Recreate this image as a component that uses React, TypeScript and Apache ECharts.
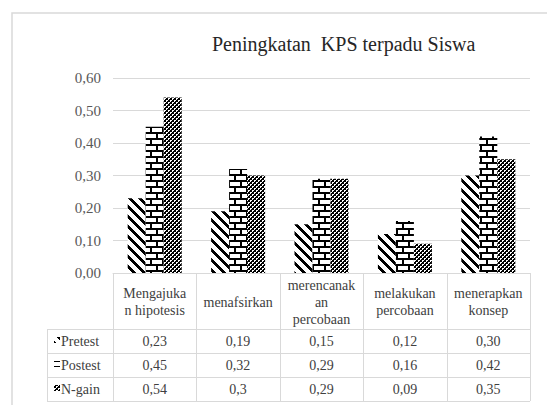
import React, { useEffect, useRef } from "react";
import * as echarts from "echarts";

const titleText = "Peningkatan  KPS terpadu Siswa";
const categories = [
  "Mengajuka\nn hipotesis",
  "menafsirkan",
  "merencanak\nan\npercobaan",
  "melakukan\npercobaan",
  "menerapkan\nkonsep",
];
const seriesNames = ["Pretest", "Postest", "N-gain"];
const pretest = [0.23, 0.19, 0.15, 0.12, 0.3];
const postest = [0.45, 0.32, 0.29, 0.16, 0.42];
const ngain = [0.54, 0.3, 0.29, 0.09, 0.35];
// decimals shown in the data table (null = general format)
const tableDecimals: (number | null)[] = [2, 2, null];

const FONT = "Liberation Serif";

function makeTile(w: number, h: number, fn: (x: number, y: number) => boolean) {
  const c = document.createElement("canvas");
  c.width = w;
  c.height = h;
  const ctx = c.getContext("2d")!;
  const img = ctx.createImageData(w, h);
  for (let y = 0; y < h; y++) {
    for (let x = 0; x < w; x++) {
      const i = (y * w + x) * 4;
      const b = fn(x, y);
      const v = b ? 0 : 255;
      img.data[i] = v;
      img.data[i + 1] = v;
      img.data[i + 2] = v;
      img.data[i + 3] = 255;
    }
  }
  ctx.putImageData(img, 0, 0);
  return { image: c.toDataURL(), repeat: "repeat", imageWidth: w, imageHeight: h } as any;
}

function fmt(v: number, d: number | null) {
  const s = d == null ? String(v) : v.toFixed(d);
  return s.replace(".", ",");
}

export default function App() {
  const ref = useRef<HTMLDivElement>(null);
  useEffect(() => {
    if (!ref.current) return;
    const chart = echarts.init(ref.current, undefined, { renderer: "svg" });
    const diag = makeTile(10, 10, (x, y) => (((x - y) % 10) + 10) % 10 < 4);
    const brick = makeTile(12, 12, (x, y) => {
      if (y % 6 < 2) return true;
      if (y < 6) return x % 12 < 2;
      return (x + 6) % 12 < 2;
    });
    const checker = makeTile(4, 4, (x, y) => ((x >> 1) + (y >> 1)) % 2 === 0 || (x === 3 && y === 1) || (x === 1 && y === 3));
    const patterns = [diag, brick, checker];
    const values = [pretest, postest, ngain];

    const gridLeft = 113;
    const gridRight = 530;
    const gridTop = 78;
    const gridBottom = 273;

    chart.setOption({
      animation: false,
      textStyle: { fontFamily: FONT },
      grid: { left: gridLeft, right: 547 - gridRight, top: gridTop, bottom: 405 - gridBottom },
      xAxis: {
        type: "category",
        data: categories,
        axisLabel: { show: false },
        axisTick: { show: false },
        axisLine: { show: true, lineStyle: { color: "#d9d9d9", width: 1 } },
      },
      yAxis: {
        type: "value",
        min: 0,
        max: 0.6,
        interval: 0.1,
        axisLine: { show: false },
        axisTick: { show: false },
        axisLabel: {
          formatter: (v: number) => fmt(v, 2),
          fontSize: 15,
          color: "#595959",
          fontFamily: FONT,
          margin: 12,
        },
        splitLine: { lineStyle: { color: "#d9d9d9", width: 1 } },
      },
      series: seriesNames.map((name, si) => ({
        type: "bar",
        name,
        data: values[si],
        barWidth: 18,
        barGap: "0%",
        itemStyle: { color: patterns[si] },
      })),
    });

    // data table aligned to the category axis
    const c0 = chart.convertToPixel({ xAxisIndex: 0 }, 0) as number;
    const c1 = chart.convertToPixel({ xAxisIndex: 0 }, 1) as number;
    const band = c1 - c0;
    const y0 = chart.convertToPixel({ yAxisIndex: 0 }, 0) as number;
    const headerH = 56;
    const rowH = 24;
    const tableLeft = 47;
    const tableRight = c0 - band / 2 + band * categories.length;
    const lineStyle = { stroke: "#d9d9d9", lineWidth: 1 };
    const g: any[] = [];
    g.push({
      type: "rect",
      shape: { x: 12, y: 13, width: 700, height: 600 },
      style: { fill: "none", stroke: "#d9d9d9", lineWidth: 1.5 },
      z: 0,
    });
    g.push({
      type: "text",
      x: 212,
      y: 44,
      style: { text: titleText, fontSize: 20, fontFamily: FONT, fill: "#262626", verticalAlign: "middle" },
    });
    // vertical lines
    for (let i = 0; i <= categories.length; i++) {
      const x = Math.round(c0 - band / 2 + band * i) + 0.5;
      g.push({ type: "line", shape: { x1: x, y1: y0, x2: x, y2: y0 + headerH + rowH * 3 }, style: lineStyle });
    }
    g.push({ type: "line", shape: { x1: tableLeft + 0.5, y1: y0 + headerH, x2: tableLeft + 0.5, y2: y0 + headerH + rowH * 3 }, style: lineStyle });
    for (let r = 0; r <= 3; r++) {
      const y = Math.round(y0 + headerH + rowH * r) + 0.5;
      g.push({ type: "line", shape: { x1: tableLeft, y1: y, x2: tableRight, y2: y }, style: lineStyle });
    }
    // header labels
    categories.forEach((cat, i) => {
      g.push({
        type: "text",
        x: c0 + band * i,
        y: y0 + headerH / 2 + 1,
        style: { text: cat, fontSize: 14, fontFamily: FONT, fill: "#404040", align: "center", verticalAlign: "middle", lineHeight: 17 },
      });
    });
    // rows
    seriesNames.forEach((name, si) => {
      const cy = y0 + headerH + rowH * si + rowH / 2;
      g.push({
        type: "rect",
        shape: { x: 54, y: cy - 4, width: 6, height: 6 },
        style: { fill: patterns[si] },
      });
      g.push({
        type: "text",
        x: 61,
        y: cy,
        style: { text: name, fontSize: 14, fontFamily: FONT, fill: "#404040", verticalAlign: "middle" },
      });
      values[si].forEach((v, i) => {
        g.push({
          type: "text",
          x: c0 + band * i,
          y: cy,
          style: { text: fmt(v, tableDecimals[si]), fontSize: 14, fontFamily: FONT, fill: "#404040", align: "center", verticalAlign: "middle" },
        });
      });
    });
    chart.setOption({ graphic: g });
    return () => chart.dispose();
  }, []);
  return <div ref={ref} style={{ position: "fixed", left: 0, top: 0, width: 547, height: 405, background: "#fff" }} />;
}
